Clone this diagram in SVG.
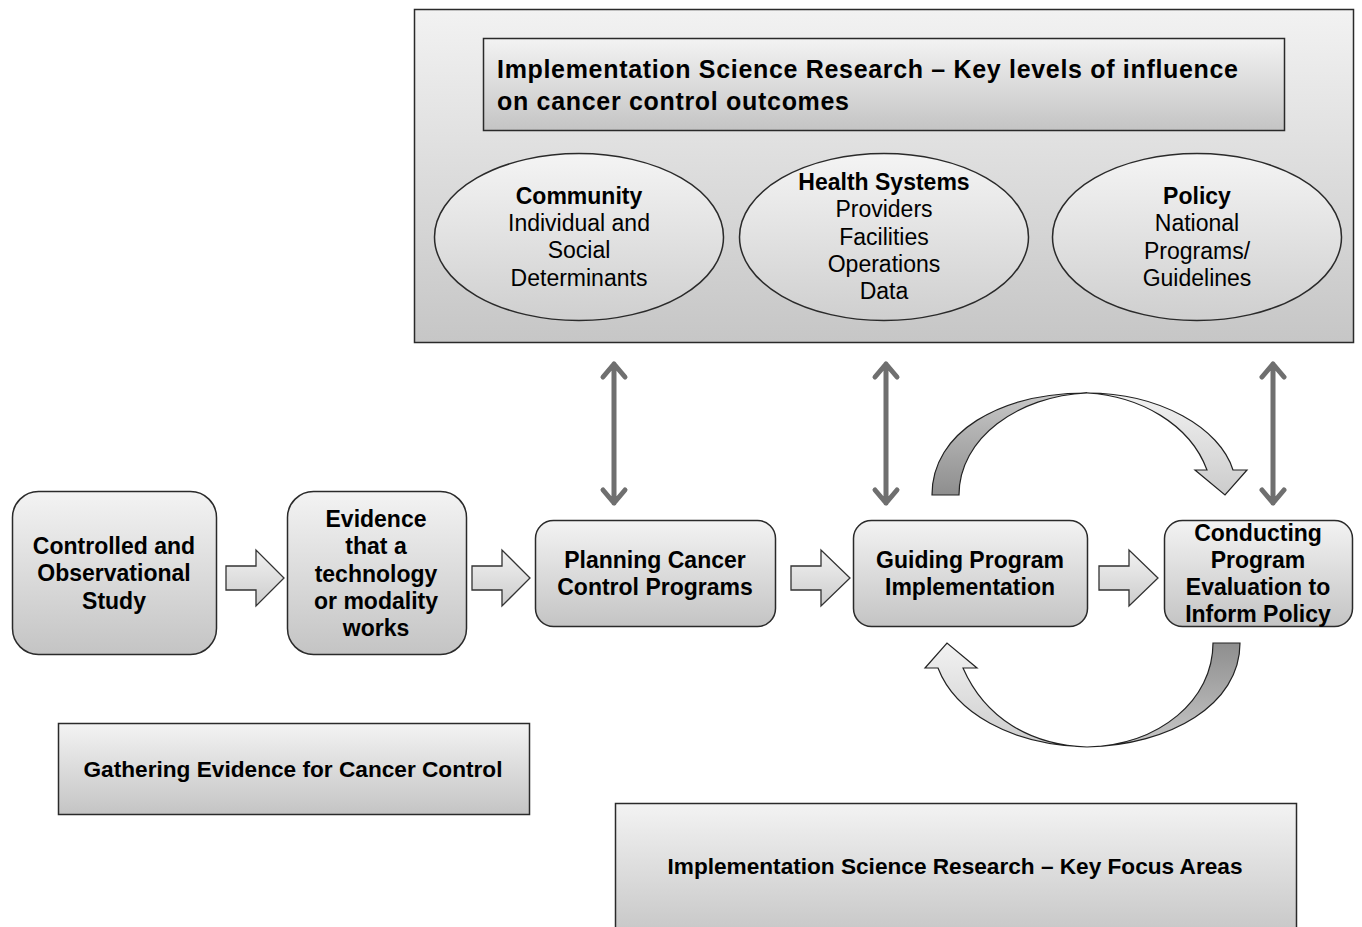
<svg xmlns="http://www.w3.org/2000/svg" width="1362" height="927" viewBox="0 0 1362 927">
<style>
text{font-family:"Liberation Sans",Arial,sans-serif;fill:#000;text-anchor:middle}
.b{font-weight:bold;font-size:23px}
.r{font-size:23px}
.box{stroke:#2a2a2a;stroke-width:1.5}
.dbl{stroke:#6f6f6f;stroke-width:5;fill:none;stroke-linecap:round;stroke-linejoin:round}
.blk{fill:url(#gA);stroke:#333;stroke-width:1.3}
</style>
<defs>
<linearGradient id="gB" x1="0" y1="0" x2="0" y2="1"><stop offset="0" stop-color="#f3f3f3"/><stop offset="1" stop-color="#c4c4c4"/></linearGradient>
<linearGradient id="gO" x1="0" y1="0" x2="0" y2="1"><stop offset="0" stop-color="#f2f2f2"/><stop offset="1" stop-color="#c6c6c6"/></linearGradient>
<linearGradient id="gE" x1="0" y1="0" x2="0" y2="1"><stop offset="0" stop-color="#f4f4f4"/><stop offset="1" stop-color="#cfcfcf"/></linearGradient>
<linearGradient id="gA" x1="0" y1="0" x2="0" y2="1"><stop offset="0" stop-color="#f2f2f2"/><stop offset="1" stop-color="#cccccc"/></linearGradient>
<linearGradient id="gD" x1="0" y1="0" x2="0" y2="1"><stop offset="0" stop-color="#c8c8c8"/><stop offset="1" stop-color="#8e8e8e"/></linearGradient>
<linearGradient id="gD2" x1="0" y1="0" x2="0" y2="1"><stop offset="0" stop-color="#8e8e8e"/><stop offset="1" stop-color="#c8c8c8"/></linearGradient>
</defs>

<g id="influence-panel">
<rect x="414.5" y="9.5" width="939" height="333" fill="url(#gO)" class="box"/>
</g>
<g id="title-levels">
<rect x="483.5" y="38.5" width="801" height="92" fill="url(#gB)" class="box"/>
<text x="497" y="78" textLength="741" lengthAdjust="spacing" style="text-anchor:start;font-weight:bold;font-size:25px">Implementation Science Research – Key levels of influence</text>
<text x="497" y="110" textLength="352" lengthAdjust="spacing" style="text-anchor:start;font-weight:bold;font-size:25px">on cancer control outcomes</text>
</g>
<g id="community">
<ellipse cx="579" cy="237" rx="144.5" ry="83.5" fill="url(#gE)" class="box"/>
<text x="579" y="204" class="b">Community</text>
<text x="579" y="231" class="r">Individual and</text>
<text x="579" y="258" class="r">Social</text>
<text x="579" y="286" class="r">Determinants</text>
</g>
<g id="health-systems">
<ellipse cx="884" cy="237" rx="144.5" ry="83.5" fill="url(#gE)" class="box"/>
<text x="884" y="190" class="b">Health Systems</text>
<text x="884" y="217" class="r">Providers</text>
<text x="884" y="245" class="r">Facilities</text>
<text x="884" y="272" class="r">Operations</text>
<text x="884" y="299" class="r">Data</text>
</g>
<g id="policy">
<ellipse cx="1197" cy="237" rx="144.5" ry="83.5" fill="url(#gE)" class="box"/>
<text x="1197" y="204" class="b">Policy</text>
<text x="1197" y="231" class="r">National</text>
<text x="1197" y="259" class="r">Programs/</text>
<text x="1197" y="286" class="r">Guidelines</text>
</g>

<g id="controlled-study">
<rect x="12.5" y="491.5" width="204" height="163" rx="26" fill="url(#gB)" class="box"/>
<text x="114" y="554" class="b">Controlled and</text>
<text x="114" y="581" class="b">Observational</text>
<text x="114" y="609" class="b">Study</text>
</g>
<g id="evidence">
<rect x="287.5" y="491.5" width="179" height="163" rx="26" fill="url(#gB)" class="box"/>
<text x="376" y="527" class="b">Evidence</text>
<text x="376" y="554" class="b">that a</text>
<text x="376" y="582" class="b">technology</text>
<text x="376" y="609" class="b">or modality</text>
<text x="376" y="636" class="b">works</text>
</g>
<g id="planning">
<rect x="535.5" y="520.5" width="240" height="106" rx="18" fill="url(#gB)" class="box"/>
<text x="655" y="568" class="b">Planning Cancer</text>
<text x="655" y="595" class="b">Control Programs</text>
</g>
<g id="guiding">
<rect x="853.5" y="520.5" width="234" height="106" rx="18" fill="url(#gB)" class="box"/>
<text x="970" y="568" class="b">Guiding Program</text>
<text x="970" y="595" class="b">Implementation</text>
</g>
<g id="conducting">
<rect x="1164.5" y="520.5" width="188" height="106" rx="18" fill="url(#gB)" class="box"/>
<text x="1258" y="541" class="b">Conducting</text>
<text x="1258" y="568" class="b">Program</text>
<text x="1258" y="595" class="b">Evaluation to</text>
<text x="1258" y="622" class="b">Inform Policy</text>
</g>
<g id="gathering">
<rect x="58.5" y="723.5" width="471" height="91" fill="url(#gB)" class="box"/>
<text x="293" y="777" textLength="419" lengthAdjust="spacingAndGlyphs" style="font-weight:bold;font-size:22px">Gathering Evidence for Cancer Control</text>
</g>
<g id="focus-areas">
<rect x="615.5" y="803.5" width="681" height="140" fill="url(#gB)" class="box"/>
<text x="955" y="874" textLength="575" lengthAdjust="spacingAndGlyphs" style="font-weight:bold;font-size:22px">Implementation Science Research – Key Focus Areas</text>
</g>

<g id="connectors">
<path class="blk" d="M226,566 H256 V550 L284,578 L256,606 V590 H226 Z"/>
<path class="blk" d="M472,566 H502 V550 L530,578 L502,606 V590 H472 Z"/>
<path class="blk" d="M791,566 H821 V550 L850,578 L821,606 V590 H791 Z"/>
<path class="blk" d="M1099,566 H1129 V550 L1158,578 L1129,606 V590 H1099 Z"/>

<path class="dbl" d="M614,364 V503 M603,377 L614,364 L625,377 M603,490 L614,503 L625,490"/>
<path class="dbl" d="M886,364 V503 M875,377 L886,364 L897,377 M875,490 L886,503 L897,490"/>
<path class="dbl" d="M1273,364 V503 M1262,377 L1273,364 L1284,377 M1262,490 L1273,503 L1284,490"/>

<path fill="url(#gD)" stroke="#222" stroke-width="1.2" d="M932,495 C932,432 1000,393 1087,393 C1018,396 959,438 959,495 Z"/>
<path fill="url(#gA)" stroke="#222" stroke-width="1.2" d="M1087,393 C1160,393 1220,428 1233,470 L1247,470 L1225,495 L1195,470 L1207,470 C1190,424 1140,396 1087,393 Z"/>

<path fill="url(#gD2)" stroke="#222" stroke-width="1.2" d="M1213,643 C1213,700 1160,745 1087,747 C1170,745 1240,705 1240,643 Z"/>
<path fill="url(#gA)" stroke="#222" stroke-width="1.2" d="M1087,747 C1010,745 955,712 938,668 L925,668 L947,643 L977,668 L963,668 C985,718 1030,745 1087,747 Z"/>
</g>
</svg>
